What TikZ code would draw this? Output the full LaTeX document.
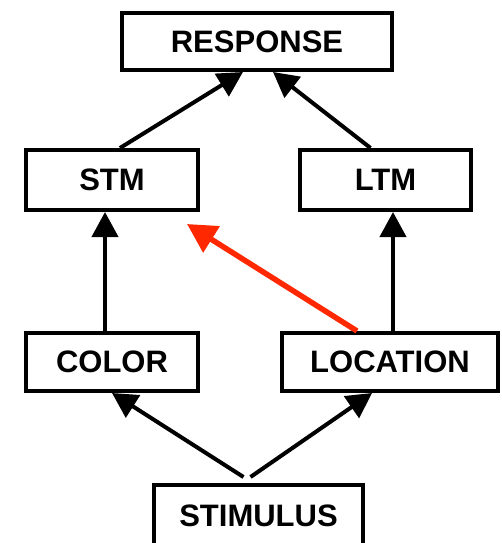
\documentclass[tikz,border=0pt]{standalone}
\usepackage{fontspec}
\setmainfont{Liberation Sans}
\usetikzlibrary{arrows.meta,calc}
\definecolor{linkred}{RGB}{255,40,0}
\tikzset{
  box/.style={draw=black, line width=4pt, fill=white, inner sep=0pt,
              font=\fontsize{31}{31}\selectfont\bfseries},
  link/.style={line width=4pt, -{Triangle[length=25pt,width=26pt]}},
  redlink/.style={line width=5.5pt, draw=linkred, fill=linkred,
                  -{Triangle[length=29pt,width=30pt]}},
}
\begin{document}
\begin{tikzpicture}[x=1pt,y=-1pt]
  \useasboundingbox (0,0) rectangle (502,543);

  % boxes
  \node[box, minimum width=270pt, minimum height=57pt] (response) at (257,41.5) {RESPONSE};
  \node[box, minimum width=172pt, minimum height=60pt] (stm) at (112,180) {STM};
  \node[box, minimum width=171pt, minimum height=60pt] (ltm) at (385.5,180) {LTM};
  \node[box, minimum width=172pt, minimum height=58pt] (color) at (112,362) {COLOR};
  \node[box, minimum width=216pt, minimum height=58pt] (location) at (390,362) {LOCATION};
  \node[box, minimum width=209pt, minimum height=62pt] (stimulus) at (258.5,516) {STIMULUS};

  % memory stores to response
  \draw[link] ([xshift=8pt]stm.north) -- ([xshift=-14pt]response.south);
  \draw[link] ([xshift=-15pt]ltm.north) -- ([xshift=16pt]response.south);

  % features to memory stores
  \draw[link] ([xshift=-7pt]color.north) -- ([xshift=-7pt]stm.south);
  \draw[link] ([xshift=3pt]location.north) -- ([xshift=3pt]location.north |- ltm.south);

  % stimulus to features
  \draw[link] ([xshift=-15pt,yshift=6pt]stimulus.north) -- (color.south);
  \draw[link] ([xshift=-8pt,yshift=6pt]stimulus.north) -- ([xshift=-18pt]location.south);

  % location feeding short-term memory
  \coordinate (redtip) at (187,224);
  \draw[redlink] ([xshift=-33pt]location.north) -- (redtip);
\end{tikzpicture}
\end{document}
